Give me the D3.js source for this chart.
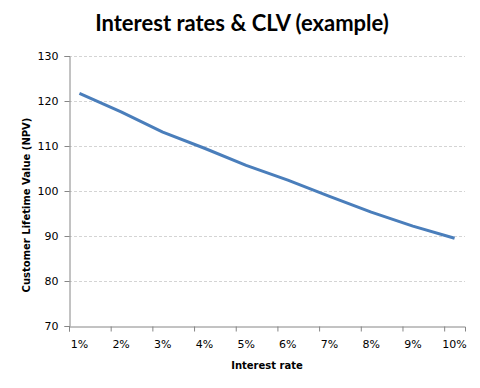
<!DOCTYPE html>
<html>
  <head>
    <style>
      body { margin: 0; background: #fff; }
    </style>
  </head>
  <body>
    <div id="chart"></div>
  </body>
</html>

<script src="https://d3js.org/d3.v7.min.js"></script>

<script>

    // data
    var rates = [1, 2, 3, 4, 5, 6, 7, 8, 9, 10]
    var clv = [121.7, 117.6, 113.1, 109.5, 105.7, 102.4, 98.8, 95.3, 92.2, 89.5]
    var rateLabels = ["1%", "2%", "3%", "4%", "5%", "6%", "7%", "8%", "9%", "10%"]
    var clvTicks = [70, 80, 90, 100, 110, 120, 130]

    var width = 480
        height = 388
        margin = {top: 56, right: 15, bottom: 62, left: 69}

    var svg = d3.select("#chart")
      .append("svg")
        .attr("width", width)
        .attr("height", height)

    var x = d3.scaleLinear()
      .domain([0.75, 10.25])
      .range([margin.left, width - margin.right])

    var y = d3.scaleLinear()
      .domain([70, 130])
      .range([height - margin.bottom, margin.top])

    // gridlines
    svg.append("g")
      .selectAll("line")
      .data(clvTicks.slice(1))
      .enter()
      .append("line")
        .attr("x1", x(0.75))
        .attr("x2", x(10.25))
        .attr("y1", function(d) { return Math.round(y(d)) + 0.5 })
        .attr("y2", function(d) { return Math.round(y(d)) + 0.5 })
        .attr("stroke", "#d4d4d4")
        .attr("stroke-dasharray", "3,2")

    // y axis
    var yAxis = svg.append("g")
      .attr("transform", "translate(" + (Math.round(x(0.75)) + 0.5) + ",0)")
      .call(d3.axisLeft(y).tickValues(clvTicks).tickSize(5).tickPadding(6))
    yAxis.select(".domain").attr("stroke", "#868686")
    yAxis.selectAll(".tick line").attr("stroke", "#868686")
    yAxis.selectAll("text")
      .attr("font-family", "'DejaVu Sans', Verdana, sans-serif")
      .attr("font-size", 11)
      .attr("fill", "#000")

    // x axis: ticks between categories, labels on the categories
    var xAxis = svg.append("g")
      .attr("transform", "translate(0," + (Math.round(y(70)) + 0.5) + ")")
      .call(d3.axisBottom(x).tickValues(rates.map(function(r) { return r - 0.25 })).tickSize(5).tickFormat(""))
    xAxis.select(".domain").attr("stroke", "#868686")
    xAxis.selectAll(".tick line").attr("stroke", "#868686")

    svg.append("g")
      .selectAll("text")
      .data(rates)
      .enter()
      .append("text")
        .attr("x", function(d) { return x(d) })
        .attr("y", y(70) + 22)
        .attr("text-anchor", "middle")
        .attr("font-family", "'DejaVu Sans', Verdana, sans-serif")
        .attr("font-size", 11)
        .text(function(d, i) { return rateLabels[i] })

    // the line
    var line = d3.line()
      .x(function(d, i) { return x(rates[i]) })
      .y(function(d) { return y(d) })

    svg.append("path")
      .datum(clv)
      .attr("d", line)
      .attr("fill", "none")
      .attr("stroke", "#4a7ebb")
      .attr("stroke-width", 3)
      .attr("stroke-linejoin", "round")

    // titles
    svg.append("text")
      .attr("x", 242)
      .attr("y", 31)
      .attr("text-anchor", "middle")
      .attr("font-family", "Lato, 'Open Sans', sans-serif")
      .attr("font-weight", "bold")
      .attr("font-size", 22)
      .text("Interest rates & CLV (example)")

    svg.append("text")
      .attr("x", 267)
      .attr("y", 369)
      .attr("text-anchor", "middle")
      .attr("font-family", "'DejaVu Sans', Verdana, sans-serif")
      .attr("font-weight", "bold")
      .attr("font-size", 10)
      .text("Interest rate")

    svg.append("text")
      .attr("transform", "translate(30,205) rotate(-90)")
      .attr("text-anchor", "middle")
      .attr("font-family", "'DejaVu Sans', Verdana, sans-serif")
      .attr("font-weight", "bold")
      .attr("font-size", 10)
      .text("Customer Lifetime Value (NPV)")

</script>
